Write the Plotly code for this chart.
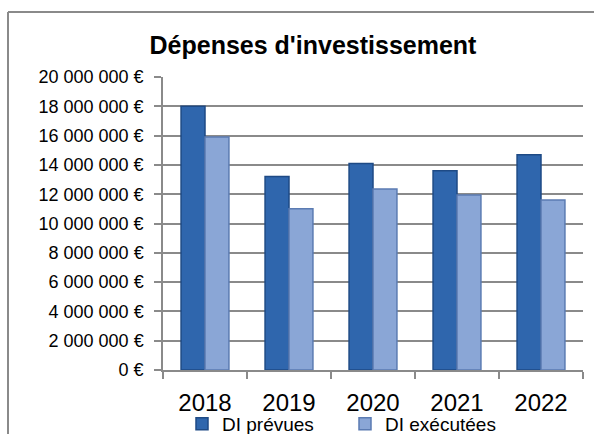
import plotly.graph_objects as go

years = ["2018", "2019", "2020", "2021", "2022"]
di_prevues = [18000000, 13200000, 14100000, 13600000, 14700000]
di_executees = [15900000, 11000000, 12350000, 11950000, 11600000]
tick_vals = [0, 2000000, 4000000, 6000000, 8000000, 10000000, 12000000, 14000000, 16000000, 18000000, 20000000]
tick_text = ["0 €", "2 000 000 €", "4 000 000 €", "6 000 000 €", "8 000 000 €", "10 000 000 €",
             "12 000 000 €", "14 000 000 €", "16 000 000 €", "18 000 000 €", "20 000 000 €"]

FONT = "Liberation Sans, Arial, sans-serif"
GRID = "#8a8a8a"

fig = go.Figure()
fig.add_trace(go.Bar(x=years, y=di_prevues, name="DI prévues",
                     marker=dict(color="#2f66ad", line=dict(color="#1e4a85", width=1.5))))
fig.add_trace(go.Bar(x=years, y=di_executees, name="DI exécutées",
                     marker=dict(color="#8aa6d6", line=dict(color="#5b7bb2", width=1.5))))

L, R, T, B = 163, 11, 77, 64
W, H = 594, 434
pw = W - L - R
ph = H - T - B

fig.update_layout(
    width=W, height=H,
    margin=dict(l=L, r=R, t=T, b=B, autoexpand=False),
    paper_bgcolor="white", plot_bgcolor="white",
    barmode="group", bargap=0.43, bargroupgap=0,
    title=dict(text="<b>Dépenses d'investissement</b>", x=313 / W, xanchor="center",
               y=1 - 45 / H, yanchor="middle",
               font=dict(family=FONT, size=25, color="black")),
    font=dict(family=FONT, color="black"),
    legend=dict(orientation="h", xref="container", yref="container",
                x=182 / W, xanchor="left",
                y=1 - 424 / H, yanchor="middle",
                font=dict(family=FONT, size=19, color="black"),
                itemwidth=30, entrywidth=118, bgcolor="rgba(0,0,0,0)"),
    showlegend=True,
)
fig.update_yaxes(range=[0, 20000000], tickvals=tick_vals, ticktext=tick_text,
                 tickfont=dict(family=FONT, size=18, color="black"),
                 showgrid=True, gridcolor=GRID, gridwidth=1.5,
                 showline=True, linecolor=GRID, linewidth=1.5,
                 ticks="outside", ticklen=7, tickcolor=GRID, tickwidth=1.5,
                 zeroline=False, ticklabelstandoff=7)
fig.update_xaxes(type="category", tickfont=dict(family=FONT, size=24, color="black"),
                 showline=True, linecolor=GRID, linewidth=1.5,
                 ticks="outside", ticklen=7, tickcolor=GRID, tickwidth=1.5,
                 tickson="boundaries", showgrid=False, ticklabelstandoff=10)

# outer chart border
fig.add_shape(type="line", xref="paper", yref="paper",
              x0=(8 - L) / pw, x1=(8 - L) / pw, y0=(H - B - 12) / ph, y1=(H - B - 480) / ph,
              line=dict(color=GRID, width=2))
fig.add_shape(type="line", xref="paper", yref="paper",
              x0=(8 - L) / pw, x1=(640 - L) / pw, y0=(H - B - 12) / ph, y1=(H - B - 12) / ph,
              line=dict(color=GRID, width=2))

fig.write_html("out.html")
